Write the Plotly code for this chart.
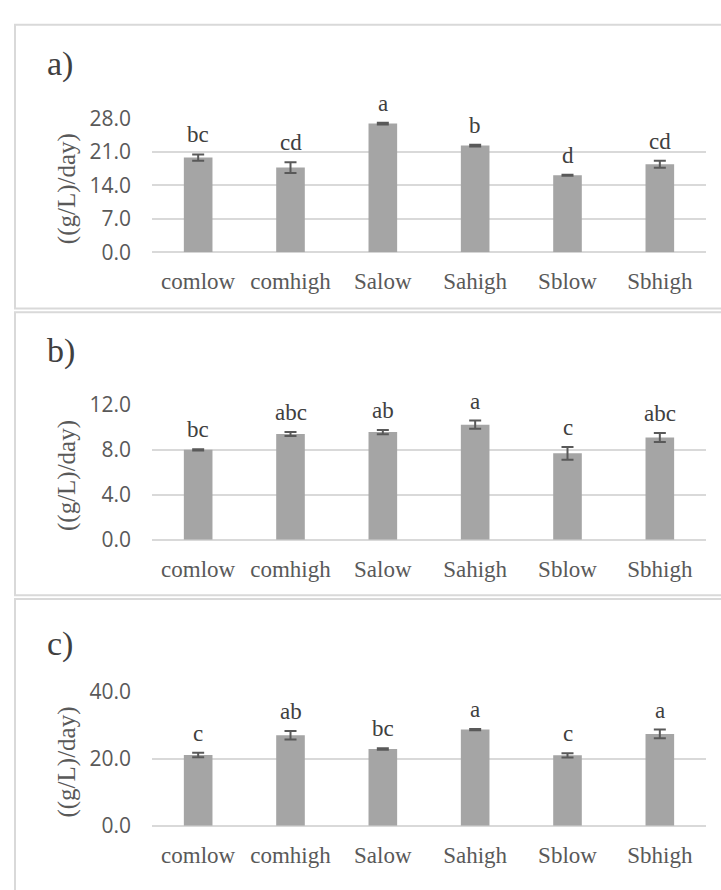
import plotly.graph_objects as go

categories = ["comlow", "comhigh", "Salow", "Sahigh", "Sblow", "Sbhigh"]

a_values = [19.8, 17.7, 26.9, 22.3, 16.1, 18.4]
a_errors = [0.65, 1.1, 0.2, 0.2, 0.1, 0.75]
a_letters = ["bc", "cd", "a", "b", "d", "cd"]

b_values = [7.98, 9.39, 9.56, 10.22, 7.67, 9.07]
b_errors = [0.05, 0.18, 0.19, 0.36, 0.56, 0.4]
b_letters = ["bc", "abc", "ab", "a", "c", "abc"]

c_values = [21.1, 27.0, 22.9, 28.7, 21.0, 27.4]
c_errors = [0.7, 1.3, 0.2, 0.2, 0.65, 1.3]
c_letters = ["c", "ab", "bc", "a", "c", "a"]

W, H = 721, 890
def PX(x): return x / W
def PY(y): return 1 - y / H

SERIF = "Liberation Serif, Times New Roman, serif"
SANS = "Open Sans, sans-serif"
GRID = "#d9d9d9"
BAR = "#a5a5a5"
ERR = "#595959"
TXT = "#595959"
DARK = "#404040"

panels = [
    dict(values=a_values, errors=a_errors, letters=a_letters, ymax=28, dtick=7,
         zero=245, top=106.7, label="a)", label_y=51, box=(10, 303)),
    dict(values=b_values, errors=b_errors, letters=b_letters, ymax=12, dtick=4,
         zero=541.7, top=402.3, label="b)", label_y=347, box=(307, 599)),
    dict(values=c_values, errors=c_errors, letters=c_letters, ymax=40, dtick=20,
         zero=837, top=698.7, label="c)", label_y=649, box=(603, 905)),
]

fig = go.Figure()
annotations = []
shapes = []
x_dom = [PX(152), PX(706)]

for i, p in enumerate(panels):
    n = "" if i == 0 else str(i + 1)
    xa, ya = "x" + n, "y" + n
    fig.add_trace(go.Bar(
        x=categories, y=p["values"], xaxis=xa, yaxis=ya,
        marker=dict(color=BAR, line=dict(width=0)),
        error_y=dict(type="data", array=p["errors"], color=ERR, thickness=2, width=6),
        cliponaxis=False, showlegend=False,
    ))
    fig.update_layout({
        "xaxis" + n: dict(domain=x_dom, anchor=ya, showgrid=False, showline=False,
                          zeroline=False, ticks="", ticklabelstandoff=13,
                          tickfont=dict(family=SERIF, size=23, color=TXT),
                          fixedrange=True),
        "yaxis" + n: dict(domain=[PY(p["zero"]), PY(p["top"])], anchor=xa,
                          range=[0, p["ymax"]], dtick=p["dtick"], tick0=0,
                          tickformat=".1f", showgrid=True, gridcolor=GRID,
                          gridwidth=1.5, zeroline=True, zerolinecolor=GRID,
                          zerolinewidth=1.5, showline=False, ticks="",
                          ticklabelstandoff=20,
                          tickfont=dict(family=SANS, size=21, color=TXT)),
    })
    for cat, v, e, lt in zip(categories, p["values"], p["errors"], p["letters"]):
        annotations.append(dict(x=cat, y=v + e, xref=xa, yref=ya, text=lt,
                                showarrow=False, yanchor="bottom", yshift=5,
                                font=dict(family=SERIF, size=23, color=DARK)))
    annotations.append(dict(x=PX(45), y=PY(p["label_y"]), xref="paper", yref="paper",
                            text=p["label"], showarrow=False, xanchor="left",
                            yanchor="middle",
                            font=dict(family=SERIF, size=34, color=DARK)))
    annotations.append(dict(x=PX(67), y=PY((p["zero"] + p["top"]) / 2 + 4),
                            xref="paper", yref="paper", text="((g/L)/day)",
                            textangle=-90, showarrow=False, xanchor="center",
                            yanchor="middle",
                            font=dict(family=SERIF, size=25, color=TXT)))
    shapes.append(dict(type="rect", xref="paper", yref="paper",
                       x0=PX(15), x1=1.05, y0=PY(p["box"][1]), y1=PY(p["box"][0]),
                       line=dict(color=GRID, width=2), fillcolor="rgba(0,0,0,0)",
                       layer="below"))

fig.update_layout(
    width=W, height=H, margin=dict(l=0, r=0, t=0, b=0),
    paper_bgcolor="white", plot_bgcolor="white",
    bargap=0.69, showlegend=False,
    annotations=annotations, shapes=shapes,
)

fig.write_html("out.html")
